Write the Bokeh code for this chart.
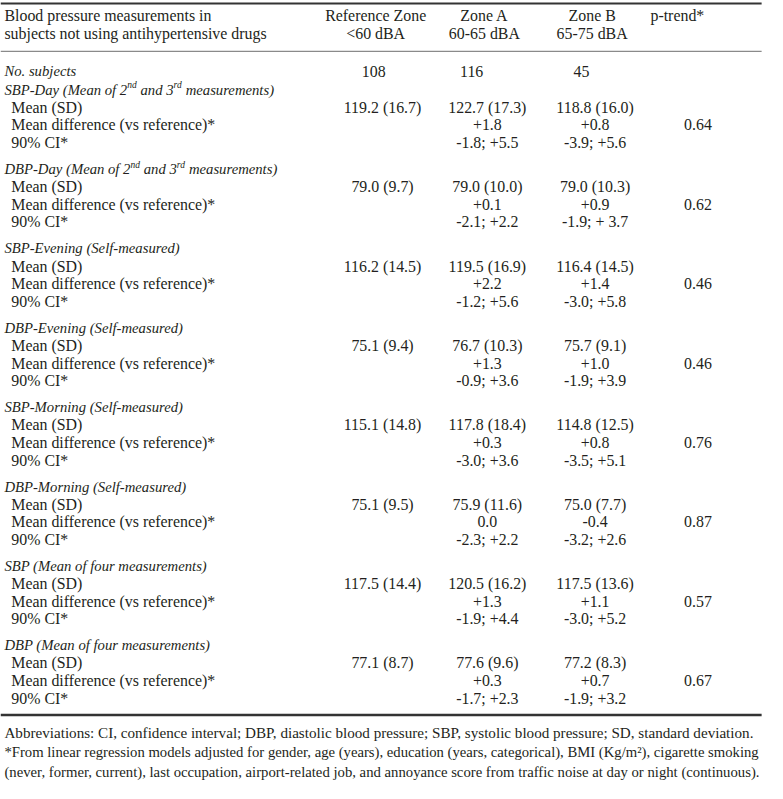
import re
from bokeh.plotting import figure
from bokeh.models import Range1d, ColumnDataSource
from bokeh.embed import file_html
from bokeh.resources import INLINE
from bokeh.core.properties import value

# ---------------- data ----------------
col_headers_1 = ["Reference Zone", "Zone A", "Zone B", "p-trend*"]
col_headers_2 = ["<60 dBA", "60-65 dBA", "65-75 dBA", ""]
row_header = ["Blood pressure measurements in", "subjects not using antihypertensive drugs"]
n_label = "No. subjects"
n_subjects = [108, 116, 45]

section_titles = [
    "SBP-Day (Mean of 2^nd and 3^rd measurements)",
    "DBP-Day (Mean of 2^nd and 3^rd measurements)",
    "SBP-Evening (Self-measured)",
    "DBP-Evening (Self-measured)",
    "SBP-Morning (Self-measured)",
    "DBP-Morning (Self-measured)",
    "SBP (Mean of four measurements)",
    "DBP (Mean of four measurements)",
]
sub_labels = ["Mean (SD)", "Mean difference (vs reference)*", "90% CI*"]

ref_mean = [119.2, 79.0, 116.2, 75.1, 115.1, 75.1, 117.5, 77.1]
ref_sd = [16.7, 9.7, 14.5, 9.4, 14.8, 9.5, 14.4, 8.7]
a_mean = [122.7, 79.0, 119.5, 76.7, 117.8, 75.9, 120.5, 77.6]
a_sd = [17.3, 10.0, 16.9, 10.3, 18.4, 11.6, 16.2, 9.6]
b_mean = [118.8, 79.0, 116.4, 75.7, 114.8, 75.0, 117.5, 77.2]
b_sd = [16.0, 10.3, 14.5, 9.1, 12.5, 7.7, 13.6, 8.3]
a_diff = [1.8, 0.1, 2.2, 1.3, 0.3, 0.0, 1.3, 0.3]
b_diff = [0.8, 0.9, 1.4, 1.0, 0.8, -0.4, 1.1, 0.7]
a_ci = ["-1.8; +5.5", "-2.1; +2.2", "-1.2; +5.6", "-0.9; +3.6",
        "-3.0; +3.6", "-2.3; +2.2", "-1.9; +4.4", "-1.7; +2.3"]
b_ci = ["-3.9; +5.6", "-1.9; + 3.7", "-3.0; +5.8", "-1.9; +3.9",
        "-3.5; +5.1", "-3.2; +2.6", "-3.0; +5.2", "-1.9; +3.2"]
p_trend = [0.64, 0.62, 0.46, 0.46, 0.76, 0.87, 0.57, 0.67]

footer = [
    "Abbreviations: CI, confidence interval; DBP, diastolic blood pressure; SBP, systolic blood pressure; SD, standard deviation.",
    "*From linear regression models adjusted for gender, age (years), education (years, categorical), BMI (Kg/m\u00b2), cigarette smoking",
    "(never, former, current), last occupation, airport-related job, and annoyance score from traffic noise at day or night (continuous).",
]

# ---------------- layout ----------------
W_REF, H_REF = 783, 799
FW, FH = 767, 783
K = W_REF / FW  # data units per screen px
FS = 15.9       # upright text
FSI = 14.7      # italic titles
FSS = 9.5       # superscripts
TXT = "#231f20"
FONT = value("Liberation Serif")

TI = {' ': 250, '(': 333, ')': 333, '-': 333, '2': 500, '3': 500, 'A': 611, 'B': 611,
      'D': 722, 'E': 611, 'M': 833, 'P': 611, 'S': 500, 'a': 500, 'd': 500, 'e': 444,
      'f': 278, 'g': 500, 'h': 500, 'i': 278, 'l': 278, 'm': 722, 'n': 500, 'o': 500,
      'r': 389, 's': 389, 't': 278, 'u': 500, 'v': 444, 'y': 444, 'w': 667, 'c': 444}
TR = {' ': 250, '!': 333, '(': 333, ')': 333, '*': 500, '+': 564, ',': 250, '-': 333,
      '.': 250, '/': 278, ':': 278, ';': 278, '<': 564, '%': 833, '\u00b2': 300,
      'A': 722, 'B': 667, 'C': 667, 'D': 722, 'E': 611, 'F': 556, 'G': 722, 'H': 722,
      'I': 333, 'J': 389, 'K': 722, 'L': 611, 'M': 889, 'N': 722, 'O': 722, 'P': 556,
      'Q': 722, 'R': 667, 'S': 556, 'T': 611, 'U': 722, 'V': 722, 'W': 944, 'X': 722,
      'Y': 722, 'Z': 611, 'a': 444, 'b': 500, 'c': 444, 'd': 500, 'e': 444, 'f': 333,
      'g': 500, 'h': 500, 'i': 278, 'j': 278, 'k': 500, 'l': 278, 'm': 778, 'n': 500,
      'o': 500, 'p': 500, 'q': 500, 'r': 333, 's': 389, 't': 278, 'u': 500, 'v': 500,
      'w': 722, 'x': 500, 'y': 500, 'z': 444}
for d in "0123456789":
    TR[d] = 500


def em(s, table):
    return sum(table.get(c, 500) for c in s) / 1000.0


p = figure(width=FW, height=FH, x_range=Range1d(0, W_REF), y_range=Range1d(H_REF, 0),
           output_backend="svg", toolbar_location=None, min_border=0,
           x_axis_location=None, y_axis_location=None, tools="")
p.grid.visible = False
p.outline_line_color = None
p.background_fill_color = "white"
p.border_fill_color = "white"

groups = {}


def put(x, y, s, style="normal", size=FS, align="left"):
    g = groups.setdefault((style, size, align), {"x": [], "y": [], "t": []})
    g["x"].append(x)
    g["y"].append(y)
    g["t"].append(s)


X_LABEL = 4
X_SUB = 11
HDR_X = [383, 494, 604, 691]
VAL_X = [390, 497, 607, 712]
N_X = [381, 481, 593]

# header
put(X_LABEL, 15, row_header[0])
put(X_LABEL, 34, row_header[1])
for i in range(4):
    put(HDR_X[i], 15, col_headers_1[i], align="center")
    if col_headers_2[i]:
        put(HDR_X[i], 34, col_headers_2[i], align="center")

# number of subjects
Y_N = 72
put(X_LABEL, Y_N, n_label, style="italic", size=FSI)
for i, n in enumerate(n_subjects):
    put(N_X[i], Y_N, str(n), align="center")

Y0, LINE, PERIOD = 91, 18, 81


def fmt_diff(v):
    return "0.0" if v == 0 else f"{v:+.1f}"


for k, title in enumerate(section_titles):
    y = Y0 + k * PERIOD
    # italic title with superscripts (leading spaces are advanced, not drawn)
    parts = re.split(r"\^(\w+)", title)
    x = X_LABEL
    for j, part in enumerate(parts):
        size = FSI if j % 2 == 0 else FSS
        dy = 0 if j % 2 == 0 else -4.5
        stripped = part.lstrip(" ")
        x += em(part[:len(part) - len(stripped)], TI) * size * K
        put(x, y + dy, stripped, style="italic", size=size)
        x += em(stripped, TI) * size * K
    for j, lab in enumerate(sub_labels):
        put(X_SUB, y + LINE * (j + 1), lab)
    put(VAL_X[0], y + LINE, f"{ref_mean[k]:.1f} ({ref_sd[k]:.1f})", align="center")
    put(VAL_X[1], y + LINE, f"{a_mean[k]:.1f} ({a_sd[k]:.1f})", align="center")
    put(VAL_X[2], y + LINE, f"{b_mean[k]:.1f} ({b_sd[k]:.1f})", align="center")
    put(VAL_X[1], y + 2 * LINE, fmt_diff(a_diff[k]), align="center")
    put(VAL_X[2], y + 2 * LINE, fmt_diff(b_diff[k]), align="center")
    put(VAL_X[1], y + 3 * LINE, a_ci[k], align="center")
    put(VAL_X[2], y + 3 * LINE, b_ci[k], align="center")
    put(VAL_X[3], y + 2 * LINE, f"{p_trend[k]:.2f}", align="center")

# footer, each line fitted to the text block width
FOOT_Y = [747, 767, 787]
FOOT_W = [769, 771, 773]
for line, fy, fw in zip(footer, FOOT_Y, FOOT_W):
    size = round(fw / K / em(line, TR), 2)
    put(X_LABEL, fy, line, size=size)

for (style, size, align), g in groups.items():
    p.text(x="x", y="y", text="t", source=ColumnDataSource(g), text_font=FONT,
           text_font_size=f"{size}px", text_font_style=style, text_align=align,
           text_baseline="middle", text_color=TXT)

# rules
p.segment(x0=[0], x1=[777], y0=[3], y1=[3], line_width=2, line_color="#333333")
p.segment(x0=[0], x1=[777], y0=[52], y1=[52], line_width=1.3, line_color="#8a8a8a")
p.segment(x0=[0], x1=[777], y0=[729], y1=[729], line_width=2.5, line_color="#333333")

open("out.html", "w").write(file_html(p, INLINE))
